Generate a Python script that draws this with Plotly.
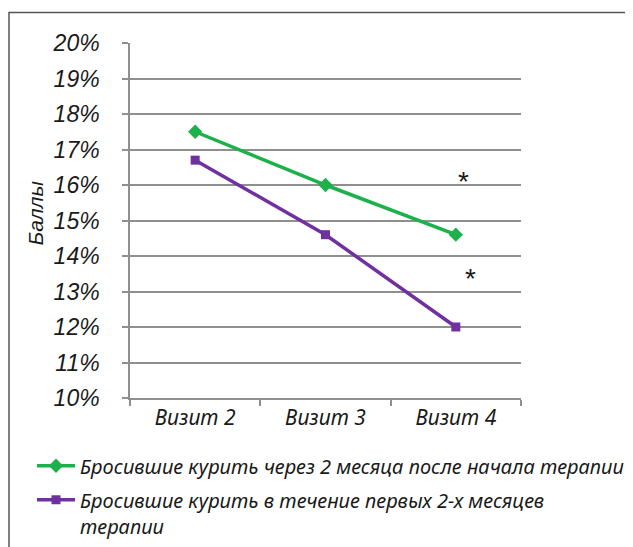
import plotly.graph_objects as go

categories = ["Визит 2", "Визит 3", "Визит 4"]
series_late = [17.5, 16.0, 14.6]
series_early = [16.7, 14.6, 12.0]
name_late = "Бросившие курить через 2 месяца после начала терапии"
name_early = "Бросившие курить в течение первых 2-х месяцев<br>терапии"
y_title = "Баллы"

# page body has an 8px default margin; work in screen coordinates
OFF = 8
W, H = 633 - OFF, 547 - OFF
L, R, T, B = 130 - OFF, 521 - OFF, 42.5 - OFF, 397.7 - OFF

def px_x(sx):
    return (sx - OFF - L) / (R - L)

def px_y(sy):
    return (B - (sy - OFF)) / (B - T)

fig = go.Figure()
fig.add_trace(go.Scatter(
    x=categories, y=series_late, name=name_late, mode="lines+markers",
    legendgroup="a",
    line=dict(color="#1db14b", width=3.5),
    marker=dict(symbol="diamond", size=11, color="#1db14b"),
))
fig.add_trace(go.Scatter(
    x=categories, y=series_early, name=name_early, mode="lines+markers",
    legendgroup="b",
    line=dict(color="#7030a0", width=3.5),
    marker=dict(symbol="square", size=9, color="#7030a0"),
))

grid = "#8f8f8f"
fig.update_layout(
    width=W, height=H,
    margin=dict(l=L, r=W - R, t=T, b=H - B, autoexpand=False),
    paper_bgcolor="white", plot_bgcolor="white",
    showlegend=True,
    legend=dict(
        x=px_x(32), y=px_y(446), xanchor="left", yanchor="top",
        font=dict(family="Noto Sans", size=20, color="#1a1a1a", style="italic"),
        tracegroupgap=5, itemwidth=38, valign="top", bgcolor="rgba(0,0,0,0)",
    ),
    xaxis=dict(
        type="category", range=[-0.5, 2.5], tickson="boundaries",
        ticks="outside", ticklen=6, tickwidth=1.5, tickcolor=grid,
        showline=True, linecolor=grid, linewidth=1.5, showgrid=False,
        tickfont=dict(family="Noto Sans", size=21, color="#1a1a1a", style="italic"),
        fixedrange=True,
    ),
    yaxis=dict(
        range=[10, 20], tickmode="linear", tick0=10, dtick=1, ticksuffix="%",
        showticksuffix="all",
        ticks="outside", ticklen=6, tickwidth=1.5, tickcolor=grid,
        showline=True, linecolor=grid, linewidth=1.5,
        showgrid=True, gridcolor=grid, gridwidth=1.5, zeroline=False,
        tickfont=dict(family="Liberation Sans", size=23, color="#1a1a1a", style="italic"),
        ticklabelstandoff=18,
        fixedrange=True,
    ),
    shapes=[dict(
        type="rect", xref="paper", yref="paper",
        x0=px_x(9), x1=px_x(660), y0=px_y(580), y1=px_y(12),
        line=dict(color="#555555", width=1.5), fillcolor="rgba(0,0,0,0)", layer="below",
    )],
    annotations=[
        dict(text=y_title, xref="paper", yref="paper", x=px_x(35), y=px_y(213),
             xanchor="center", yanchor="middle",
             textangle=-90, showarrow=False,
             font=dict(family="Liberation Sans", size=21, color="#1a1a1a", style="italic")),
        dict(text="*", xref="x", yref="y", x=2.055, y=16.1, showarrow=False,
             font=dict(family="Liberation Sans", size=28, color="#1a1a1a")),
        dict(text="*", xref="x", yref="y", x=2.114, y=13.38, showarrow=False,
             font=dict(family="Liberation Sans", size=28, color="#1a1a1a")),
    ],
)

fig.write_html("out.html")
